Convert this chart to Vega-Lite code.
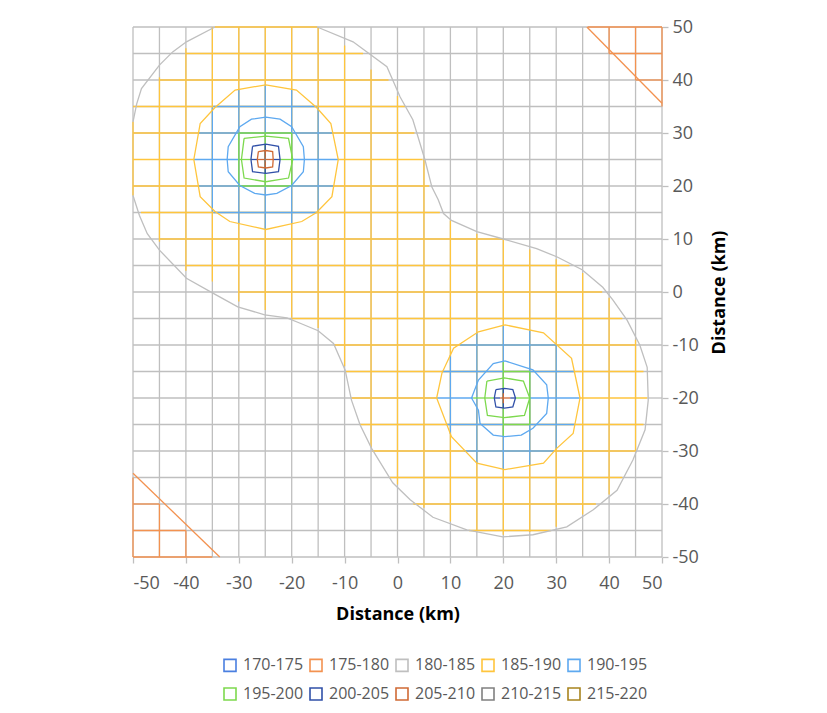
{
"$schema":"https://vega.github.io/schema/vega-lite/v6.json",
"width":529,"height":530,
"autosize":{"type":"none"},
"padding":{"left":133,"top":27,"right":165,"bottom":156},
"background":"white",
"config":{"view":{"stroke":null},"font":"Open Sans"},
"datasets":{
"grid":[
{"x":-50,"y":-50,"x2":-50,"y2":50,"b":"180-185"},{"x":-45,"y":-50,"x2":-45,"y2":50,"b":"180-185"},{"x":-40,"y":-50,"x2":-40,"y2":50,"b":"180-185"},{"x":-35,"y":-50,"x2":-35,"y2":50,"b":"180-185"},{"x":-30,"y":-50,"x2":-30,"y2":50,"b":"180-185"},{"x":-25,"y":-50,"x2":-25,"y2":50,"b":"180-185"},{"x":-20,"y":-50,"x2":-20,"y2":50,"b":"180-185"},{"x":-15,"y":-50,"x2":-15,"y2":50,"b":"180-185"},{"x":-10,"y":-50,"x2":-10,"y2":50,"b":"180-185"},{"x":-5,"y":-50,"x2":-5,"y2":50,"b":"180-185"},{"x":0,"y":-50,"x2":0,"y2":50,"b":"180-185"},{"x":5,"y":-50,"x2":5,"y2":50,"b":"180-185"},{"x":10,"y":-50,"x2":10,"y2":50,"b":"180-185"},{"x":15,"y":-50,"x2":15,"y2":50,"b":"180-185"},{"x":20,"y":-50,"x2":20,"y2":50,"b":"180-185"},{"x":25,"y":-50,"x2":25,"y2":50,"b":"180-185"},{"x":30,"y":-50,"x2":30,"y2":50,"b":"180-185"},{"x":35,"y":-50,"x2":35,"y2":50,"b":"180-185"},{"x":40,"y":-50,"x2":40,"y2":50,"b":"180-185"},{"x":45,"y":-50,"x2":45,"y2":50,"b":"180-185"},{"x":50,"y":-50,"x2":50,"y2":50,"b":"180-185"},
{"x":-50,"y":-50,"x2":50,"y2":-50,"b":"180-185"},{"x":-50,"y":-45,"x2":50,"y2":-45,"b":"180-185"},{"x":-50,"y":-40,"x2":50,"y2":-40,"b":"180-185"},{"x":-50,"y":-35,"x2":50,"y2":-35,"b":"180-185"},{"x":-50,"y":-30,"x2":50,"y2":-30,"b":"180-185"},{"x":-50,"y":-25,"x2":50,"y2":-25,"b":"180-185"},{"x":-50,"y":-20,"x2":7.4,"y2":-20,"b":"180-185"},{"x":47.2,"y":-20,"x2":50,"y2":-20,"b":"180-185"},{"x":-50,"y":-15,"x2":50,"y2":-15,"b":"180-185"},{"x":-50,"y":-10,"x2":50,"y2":-10,"b":"180-185"},{"x":-50,"y":-5,"x2":50,"y2":-5,"b":"180-185"},{"x":-50,"y":0,"x2":50,"y2":0,"b":"180-185"},{"x":-50,"y":5,"x2":50,"y2":5,"b":"180-185"},{"x":-50,"y":10,"x2":50,"y2":10,"b":"180-185"},{"x":-50,"y":15,"x2":50,"y2":15,"b":"180-185"},{"x":-50,"y":20,"x2":50,"y2":20,"b":"180-185"},{"x":4.7,"y":25,"x2":50,"y2":25,"b":"180-185"},{"x":-50,"y":30,"x2":50,"y2":30,"b":"180-185"},{"x":-50,"y":35,"x2":50,"y2":35,"b":"180-185"},{"x":-50,"y":40,"x2":50,"y2":40,"b":"180-185"},{"x":-50,"y":45,"x2":50,"y2":45,"b":"180-185"},{"x":-50,"y":50,"x2":50,"y2":50,"b":"180-185"},
{"x":-34.5,"y":50,"x2":-15.2,"y2":50,"b":"185-190"},
{"x":-40,"y":45,"x2":-6.5,"y2":45,"b":"185-190"},
{"x":-45,"y":40,"x2":-1.7,"y2":40,"b":"185-190"},
{"x":-50,"y":35,"x2":1.4,"y2":35,"b":"185-190"},
{"x":-50,"y":30,"x2":3.2,"y2":30,"b":"185-190"},
{"x":-50,"y":25,"x2":-38.5,"y2":25,"b":"185-190"},
{"x":-11.2,"y":25,"x2":4.7,"y2":25,"b":"185-190"},
{"x":-50,"y":20,"x2":6.0,"y2":20,"b":"185-190"},
{"x":-48.5,"y":15,"x2":8.0,"y2":15,"b":"185-190"},
{"x":-45,"y":10,"x2":20,"y2":10,"b":"185-190"},
{"x":-40,"y":5,"x2":32.5,"y2":5,"b":"185-190"},
{"x":-30,"y":0,"x2":38.7,"y2":0,"b":"185-190"},
{"x":-20,"y":-5,"x2":42.5,"y2":-5,"b":"185-190"},
{"x":-12,"y":-10,"x2":45,"y2":-10,"b":"185-190"},
{"x":-9.8,"y":-15,"x2":46.5,"y2":-15,"b":"185-190"},
{"x":-8.7,"y":-20,"x2":7.4,"y2":-20,"b":"185-190"},
{"x":34.5,"y":-20,"x2":47.2,"y2":-20,"b":"185-190"},
{"x":-7.1,"y":-25,"x2":46.5,"y2":-25,"b":"185-190"},
{"x":-4.8,"y":-30,"x2":45,"y2":-30,"b":"185-190"},
{"x":-1.5,"y":-35,"x2":42.5,"y2":-35,"b":"185-190"},
{"x":3,"y":-40,"x2":37.5,"y2":-40,"b":"185-190"},
{"x":13.5,"y":-45,"x2":29,"y2":-45,"b":"185-190"},
{"x":-50,"y":18.2,"x2":-50,"y2":32.1,"b":"185-190"},
{"x":-45,"y":9.5,"x2":-45,"y2":40.5,"b":"185-190"},
{"x":-40,"y":4,"x2":-40,"y2":46,"b":"185-190"},
{"x":-35,"y":2,"x2":-35,"y2":50,"b":"185-190"},
{"x":-30,"y":-1.8,"x2":-30,"y2":50,"b":"185-190"},
{"x":-25,"y":-3.4,"x2":-25,"y2":50,"b":"185-190"},
{"x":-20,"y":-4.8,"x2":-20,"y2":50,"b":"185-190"},
{"x":-15,"y":-6.8,"x2":-15,"y2":50,"b":"185-190"},
{"x":-10,"y":-14,"x2":-10,"y2":46.5,"b":"185-190"},
{"x":-5,"y":-29.3,"x2":-5,"y2":42,"b":"185-190"},
{"x":0,"y":-36.3,"x2":0,"y2":37,"b":"185-190"},
{"x":5,"y":-40.7,"x2":5,"y2":25,"b":"185-190"},
{"x":10,"y":-43.3,"x2":10,"y2":13.5,"b":"185-190"},
{"x":15,"y":-45,"x2":15,"y2":11,"b":"185-190"},
{"x":20,"y":-45.8,"x2":20,"y2":10,"b":"185-190"},
{"x":25,"y":-45.3,"x2":25,"y2":8,"b":"185-190"},
{"x":30,"y":-44.3,"x2":30,"y2":6.2,"b":"185-190"},
{"x":35,"y":-42,"x2":35,"y2":3.6,"b":"185-190"},
{"x":40,"y":-38.2,"x2":40,"y2":-1.1,"b":"185-190"},
{"x":45,"y":-30,"x2":45,"y2":-9,"b":"185-190"},
{"x":-34.8,"y":35,"x2":-15.2,"y2":35,"b":"190-195"},
{"x":-37.6,"y":30,"x2":-12.2,"y2":30,"b":"190-195"},
{"x":-38.5,"y":25,"x2":-30,"y2":25,"b":"190-195"},
{"x":-20,"y":25,"x2":-11.2,"y2":25,"b":"190-195"},
{"x":-37.6,"y":20,"x2":-12.1,"y2":20,"b":"190-195"},
{"x":-34.8,"y":15,"x2":-15.2,"y2":15,"b":"190-195"},
{"x":11.8,"y":-10,"x2":30.1,"y2":-10,"b":"190-195"},
{"x":8.5,"y":-15,"x2":33.4,"y2":-15,"b":"190-195"},
{"x":7.4,"y":-20,"x2":14.3,"y2":-20,"b":"190-195"},
{"x":25,"y":-20,"x2":34.5,"y2":-20,"b":"190-195"},
{"x":9.3,"y":-25,"x2":33.5,"y2":-25,"b":"190-195"},
{"x":12.6,"y":-30,"x2":29.6,"y2":-30,"b":"190-195"},
{"x":-35,"y":15.2,"x2":-35,"y2":34.8,"b":"190-195"},
{"x":-30,"y":12.9,"x2":-30,"y2":38.2,"b":"190-195"},
{"x":-25,"y":11.8,"x2":-25,"y2":39.1,"b":"190-195"},
{"x":-20,"y":12.9,"x2":-20,"y2":38.3,"b":"190-195"},
{"x":-15,"y":15.2,"x2":-15,"y2":34.8,"b":"190-195"},
{"x":10,"y":-26.8,"x2":10,"y2":-11.9,"b":"190-195"},
{"x":15,"y":-32.3,"x2":15,"y2":-7.7,"b":"190-195"},
{"x":20,"y":-33.4,"x2":20,"y2":-6.3,"b":"190-195"},
{"x":25,"y":-32.7,"x2":25,"y2":-7.2,"b":"190-195"},
{"x":30,"y":-29.6,"x2":30,"y2":-9.9,"b":"190-195"},
{"x":-30,"y":30,"x2":-20,"y2":30,"b":"195-200"},
{"x":-30,"y":25,"x2":-27.7,"y2":25,"b":"195-200"},
{"x":-22.2,"y":25,"x2":-20,"y2":25,"b":"195-200"},
{"x":-30,"y":20,"x2":-20,"y2":20,"b":"195-200"},
{"x":20,"y":-15,"x2":25,"y2":-15,"b":"195-200"},
{"x":14.3,"y":-20,"x2":18.3,"y2":-20,"b":"195-200"},
{"x":22.3,"y":-20,"x2":25,"y2":-20,"b":"195-200"},
{"x":20,"y":-25,"x2":25,"y2":-25,"b":"195-200"},
{"x":-30,"y":20,"x2":-30,"y2":30,"b":"195-200"},
{"x":-25,"y":20,"x2":-25,"y2":30,"b":"195-200"},
{"x":-20,"y":20,"x2":-20,"y2":30,"b":"195-200"},
{"x":20,"y":-27.3,"x2":20,"y2":-13,"b":"195-200"},
{"x":25,"y":-25,"x2":25,"y2":-15,"b":"195-200"},
{"x":-27.7,"y":25,"x2":-26.5,"y2":25,"b":"200-205"},
{"x":-23.5,"y":25,"x2":-22.2,"y2":25,"b":"200-205"},
{"x":18.3,"y":-20,"x2":19.4,"y2":-20,"b":"200-205"},
{"x":21.3,"y":-20,"x2":22.3,"y2":-20,"b":"200-205"},
{"x":-25,"y":22.4,"x2":-25,"y2":27.9,"b":"200-205"},
{"x":20,"y":-21.9,"x2":20,"y2":-18.2,"b":"200-205"},
{"x":-26.5,"y":25,"x2":-23.5,"y2":25,"b":"205-210"},
{"x":19.4,"y":-20,"x2":21.3,"y2":-20,"b":"205-210"},
{"x":-25,"y":23.4,"x2":-25,"y2":26.7,"b":"205-210"},
{"x":20,"y":-21,"x2":20,"y2":-19.1,"b":"205-210"},
{"x":-25,"y":24.6,"x2":-25,"y2":25.4,"b":"210-215"},
{"x":36,"y":50,"x2":50,"y2":50,"b":"175-180"},
{"x":40,"y":45,"x2":50,"y2":45,"b":"175-180"},
{"x":45,"y":40,"x2":50,"y2":40,"b":"175-180"},
{"x":-50,"y":-40,"x2":-45,"y2":-40,"b":"175-180"},
{"x":-50,"y":-45,"x2":-40,"y2":-45,"b":"175-180"},
{"x":-50,"y":-50,"x2":-35,"y2":-50,"b":"175-180"},
{"x":50,"y":35,"x2":50,"y2":50,"b":"175-180"},
{"x":45,"y":40,"x2":45,"y2":50,"b":"175-180"},
{"x":40,"y":45,"x2":40,"y2":50,"b":"175-180"},
{"x":-50,"y":-50,"x2":-50,"y2":-35,"b":"175-180"},
{"x":-45,"y":-50,"x2":-45,"y2":-40,"b":"175-180"},
{"x":-40,"y":-50,"x2":-40,"y2":-45,"b":"175-180"}
],
"cont":[
{"c":"c1","b":"175-180","i":0,"x":35.8,"y":50},{"c":"c1","b":"175-180","i":1,"x":50,"y":35.6},
{"c":"c2","b":"175-180","i":0,"x":-50,"y":-34.2},{"c":"c2","b":"175-180","i":1,"x":-33.6,"y":-50},
{"c":"gB","b":"180-185","i":0,"x":-50,"y":32.1},{"c":"gB","b":"180-185","i":1,"x":-49.3,"y":35.5},{"c":"gB","b":"180-185","i":2,"x":-48.4,"y":38.4},{"c":"gB","b":"180-185","i":3,"x":-45,"y":42.8},{"c":"gB","b":"180-185","i":4,"x":-42.5,"y":45.3},{"c":"gB","b":"180-185","i":5,"x":-39.9,"y":47.2},{"c":"gB","b":"180-185","i":6,"x":-34.5,"y":50},
{"c":"gA","b":"180-185","i":0,"x":-15.2,"y":50},{"c":"gA","b":"180-185","i":1,"x":-8.4,"y":47.2},{"c":"gA","b":"180-185","i":2,"x":-2.0,"y":42.5},{"c":"gA","b":"180-185","i":3,"x":0.5,"y":36.8},{"c":"gA","b":"180-185","i":4,"x":2.9,"y":32.5},{"c":"gA","b":"180-185","i":5,"x":5.2,"y":24.9},{"c":"gA","b":"180-185","i":6,"x":6.5,"y":19.8},{"c":"gA","b":"180-185","i":7,"x":7.7,"y":17.4},{"c":"gA","b":"180-185","i":8,"x":8.7,"y":14.8},{"c":"gA","b":"180-185","i":9,"x":10.2,"y":13.5},{"c":"gA","b":"180-185","i":10,"x":15,"y":11.4},{"c":"gA","b":"180-185","i":11,"x":20,"y":10},{"c":"gA","b":"180-185","i":12,"x":26.3,"y":8.2},{"c":"gA","b":"180-185","i":13,"x":30.2,"y":6.6},{"c":"gA","b":"180-185","i":14,"x":34.9,"y":4.2},{"c":"gA","b":"180-185","i":15,"x":38.8,"y":0.9},{"c":"gA","b":"180-185","i":16,"x":40.7,"y":-1.5},{"c":"gA","b":"180-185","i":17,"x":43.4,"y":-5.3},{"c":"gA","b":"180-185","i":18,"x":45.8,"y":-10},{"c":"gA","b":"180-185","i":19,"x":47.2,"y":-14.2},{"c":"gA","b":"180-185","i":20,"x":47.4,"y":-20.4},{"c":"gA","b":"180-185","i":21,"x":46.8,"y":-26},{"c":"gA","b":"180-185","i":22,"x":44.5,"y":-31.7},{"c":"gA","b":"180-185","i":23,"x":41.5,"y":-37.4},{"c":"gA","b":"180-185","i":24,"x":37,"y":-41.1},{"c":"gA","b":"180-185","i":25,"x":32,"y":-44.3},{"c":"gA","b":"180-185","i":26,"x":25.6,"y":-45.8},{"c":"gA","b":"180-185","i":27,"x":19.9,"y":-46.2},{"c":"gA","b":"180-185","i":28,"x":13.1,"y":-44.9},{"c":"gA","b":"180-185","i":29,"x":6.7,"y":-42.5},{"c":"gA","b":"180-185","i":30,"x":2.4,"y":-39.2},{"c":"gA","b":"180-185","i":31,"x":-0.9,"y":-36},{"c":"gA","b":"180-185","i":32,"x":-4.9,"y":-29.5},{"c":"gA","b":"180-185","i":33,"x":-7.1,"y":-25},{"c":"gA","b":"180-185","i":34,"x":-8.7,"y":-20.4},{"c":"gA","b":"180-185","i":35,"x":-9.9,"y":-14.7},{"c":"gA","b":"180-185","i":36,"x":-12.1,"y":-9.7},{"c":"gA","b":"180-185","i":37,"x":-15,"y":-7.3},{"c":"gA","b":"180-185","i":38,"x":-18.4,"y":-5.9},{"c":"gA","b":"180-185","i":39,"x":-20.9,"y":-4.9},{"c":"gA","b":"180-185","i":40,"x":-25.1,"y":-4.3},{"c":"gA","b":"180-185","i":41,"x":-30.2,"y":-2.8},{"c":"gA","b":"180-185","i":42,"x":-34.9,"y":-0.2},{"c":"gA","b":"180-185","i":43,"x":-39.9,"y":2.6},{"c":"gA","b":"180-185","i":44,"x":-45,"y":7.9},{"c":"gA","b":"180-185","i":45,"x":-47.3,"y":11},{"c":"gA","b":"180-185","i":46,"x":-48.8,"y":14.5},{"c":"gA","b":"180-185","i":47,"x":-50,"y":18.2},
{"c":"yL","b":"185-190","i":0,"x":-24.9,"y":39.1},{"c":"yL","b":"185-190","i":1,"x":-19.1,"y":38.1},{"c":"yL","b":"185-190","i":2,"x":-15.3,"y":34.8},{"c":"yL","b":"185-190","i":3,"x":-12.6,"y":31.8},{"c":"yL","b":"185-190","i":4,"x":-11.2,"y":25},{"c":"yL","b":"185-190","i":5,"x":-12.4,"y":18},{"c":"yL","b":"185-190","i":6,"x":-15.3,"y":15},{"c":"yL","b":"185-190","i":7,"x":-18.1,"y":13.3},{"c":"yL","b":"185-190","i":8,"x":-24.9,"y":11.8},{"c":"yL","b":"185-190","i":9,"x":-31.7,"y":13.3},{"c":"yL","b":"185-190","i":10,"x":-34.5,"y":15.2},{"c":"yL","b":"185-190","i":11,"x":-37.3,"y":18},{"c":"yL","b":"185-190","i":12,"x":-38.5,"y":25},{"c":"yL","b":"185-190","i":13,"x":-37.3,"y":31.8},{"c":"yL","b":"185-190","i":14,"x":-34.5,"y":34.8},{"c":"yL","b":"185-190","i":15,"x":-30.7,"y":38.1},{"c":"yL","b":"185-190","i":16,"x":-24.9,"y":39.1},
{"c":"yR","b":"185-190","i":0,"x":20.3,"y":-6.2},{"c":"yR","b":"185-190","i":1,"x":27.6,"y":-7.7},{"c":"yR","b":"185-190","i":2,"x":32.9,"y":-12.5},{"c":"yR","b":"185-190","i":3,"x":34.5,"y":-20},{"c":"yR","b":"185-190","i":4,"x":33.2,"y":-26.7},{"c":"yR","b":"185-190","i":5,"x":30.1,"y":-29.5},{"c":"yR","b":"185-190","i":6,"x":27.6,"y":-32.3},{"c":"yR","b":"185-190","i":7,"x":20.3,"y":-33.5},{"c":"yR","b":"185-190","i":8,"x":15,"y":-32.3},{"c":"yR","b":"185-190","i":9,"x":10.2,"y":-27.3},{"c":"yR","b":"185-190","i":10,"x":7.4,"y":-20},{"c":"yR","b":"185-190","i":11,"x":8.4,"y":-15.3},{"c":"yR","b":"185-190","i":12,"x":10.6,"y":-10.6},{"c":"yR","b":"185-190","i":13,"x":15.3,"y":-7.5},{"c":"yR","b":"185-190","i":14,"x":20.3,"y":-6.2},
{"c":"bL","b":"190-195","i":0,"x":-24.9,"y":33},{"c":"bL","b":"190-195","i":1,"x":-22.2,"y":32.6},{"c":"bL","b":"190-195","i":2,"x":-20,"y":31.2},{"c":"bL","b":"190-195","i":3,"x":-17.8,"y":27.4},{"c":"bL","b":"190-195","i":4,"x":-17.6,"y":25},{"c":"bL","b":"190-195","i":5,"x":-17.8,"y":22.7},{"c":"bL","b":"190-195","i":6,"x":-20,"y":20.1},{"c":"bL","b":"190-195","i":7,"x":-22.8,"y":18.6},{"c":"bL","b":"190-195","i":8,"x":-24.9,"y":18.3},{"c":"bL","b":"190-195","i":9,"x":-27,"y":18.6},{"c":"bL","b":"190-195","i":10,"x":-29.8,"y":20.1},{"c":"bL","b":"190-195","i":11,"x":-32,"y":22.7},{"c":"bL","b":"190-195","i":12,"x":-32.2,"y":25},{"c":"bL","b":"190-195","i":13,"x":-32,"y":27.4},{"c":"bL","b":"190-195","i":14,"x":-29.8,"y":31.2},{"c":"bL","b":"190-195","i":15,"x":-27.6,"y":32.6},{"c":"bL","b":"190-195","i":16,"x":-24.9,"y":33},
{"c":"bR","b":"190-195","i":0,"x":20.3,"y":-13},{"c":"bR","b":"190-195","i":1,"x":25.6,"y":-14.7},{"c":"bR","b":"190-195","i":2,"x":28.2,"y":-17.5},{"c":"bR","b":"190-195","i":3,"x":28.5,"y":-20},{"c":"bR","b":"190-195","i":4,"x":28.2,"y":-22.9},{"c":"bR","b":"190-195","i":5,"x":25.6,"y":-25.7},{"c":"bR","b":"190-195","i":6,"x":23.4,"y":-27},{"c":"bR","b":"190-195","i":7,"x":20.3,"y":-27.3},{"c":"bR","b":"190-195","i":8,"x":18.1,"y":-27},{"c":"bR","b":"190-195","i":9,"x":15.6,"y":-24.8},{"c":"bR","b":"190-195","i":10,"x":15.3,"y":-22.3},{"c":"bR","b":"190-195","i":11,"x":14,"y":-20},{"c":"bR","b":"190-195","i":12,"x":15.3,"y":-16.6},{"c":"bR","b":"190-195","i":13,"x":18.1,"y":-13.5},{"c":"bR","b":"190-195","i":14,"x":20.3,"y":-13},
{"c":"gL","b":"195-200","i":0,"x":-29,"y":29},{"c":"gL","b":"195-200","i":1,"x":-24.9,"y":29.4},{"c":"gL","b":"195-200","i":2,"x":-20.6,"y":29},{"c":"gL","b":"195-200","i":3,"x":-19.8,"y":25},{"c":"gL","b":"195-200","i":4,"x":-20.6,"y":21.5},{"c":"gL","b":"195-200","i":5,"x":-24.9,"y":20.8},{"c":"gL","b":"195-200","i":6,"x":-29,"y":21.5},{"c":"gL","b":"195-200","i":7,"x":-29.5,"y":25},{"c":"gL","b":"195-200","i":8,"x":-29,"y":29},
{"c":"gR","b":"195-200","i":0,"x":16.9,"y":-16.8},{"c":"gR","b":"195-200","i":1,"x":20.2,"y":-16.2},{"c":"gR","b":"195-200","i":2,"x":23.8,"y":-16.8},{"c":"gR","b":"195-200","i":3,"x":25,"y":-20},{"c":"gR","b":"195-200","i":4,"x":24,"y":-23.3},{"c":"gR","b":"195-200","i":5,"x":20.2,"y":-23.7},{"c":"gR","b":"195-200","i":6,"x":17,"y":-23.3},{"c":"gR","b":"195-200","i":7,"x":16.5,"y":-20},{"c":"gR","b":"195-200","i":8,"x":16.9,"y":-16.8},
{"c":"dL","b":"200-205","i":0,"x":-27.4,"y":27.5},{"c":"dL","b":"200-205","i":1,"x":-24.9,"y":27.9},{"c":"dL","b":"200-205","i":2,"x":-22.5,"y":27.5},{"c":"dL","b":"200-205","i":3,"x":-22.2,"y":25},{"c":"dL","b":"200-205","i":4,"x":-22.5,"y":22.7},{"c":"dL","b":"200-205","i":5,"x":-24.9,"y":22.4},{"c":"dL","b":"200-205","i":6,"x":-27.4,"y":22.7},{"c":"dL","b":"200-205","i":7,"x":-27.7,"y":25},{"c":"dL","b":"200-205","i":8,"x":-27.4,"y":27.5},
{"c":"dR","b":"200-205","i":0,"x":18.6,"y":-18.4},{"c":"dR","b":"200-205","i":1,"x":20.2,"y":-18.2},{"c":"dR","b":"200-205","i":2,"x":21.8,"y":-18.4},{"c":"dR","b":"200-205","i":3,"x":22.3,"y":-20},{"c":"dR","b":"200-205","i":4,"x":21.8,"y":-21.7},{"c":"dR","b":"200-205","i":5,"x":20.2,"y":-21.9},{"c":"dR","b":"200-205","i":6,"x":18.6,"y":-21.7},{"c":"dR","b":"200-205","i":7,"x":18.3,"y":-20},{"c":"dR","b":"200-205","i":8,"x":18.6,"y":-18.4},
{"c":"oL","b":"205-210","i":0,"x":-26.3,"y":26.5},{"c":"oL","b":"205-210","i":1,"x":-24.9,"y":26.7},{"c":"oL","b":"205-210","i":2,"x":-23.6,"y":26.5},{"c":"oL","b":"205-210","i":3,"x":-23.5,"y":25},{"c":"oL","b":"205-210","i":4,"x":-23.6,"y":23.6},{"c":"oL","b":"205-210","i":5,"x":-24.9,"y":23.4},{"c":"oL","b":"205-210","i":6,"x":-26.3,"y":23.6},{"c":"oL","b":"205-210","i":7,"x":-26.5,"y":25},{"c":"oL","b":"205-210","i":8,"x":-26.3,"y":26.5}
]
},
"layer":[
{"data":{"name":"grid"},
 "mark":{"type":"rule","strokeWidth":1.3},
 "encoding":{
  "x":{"field":"x","type":"quantitative","scale":{"domain":[-50,50],"nice":false,"zero":false},
   "axis":{"orient":"bottom","values":[-50,-45,-40,-35,-30,-25,-20,-15,-10,-5,0,5,10,15,20,25,30,35,40,45,50],"labelExpr":"datum.value % 10 == 0 ? '' + datum.value : ''","labelOverlap":false,"grid":false,"domain":false,"tickColor":"#BFBFBF","tickSize":6,"tickWidth":1.3,"labelFontSize":18,"labelColor":"#595959","labelPadding":11,"title":"Distance (km)","titleFontSize":18,"titleFontWeight":"bold","titleColor":"#000000","titlePadding":13}},
  "y":{"field":"y","type":"quantitative","scale":{"domain":[-50,50],"nice":false,"zero":false},
   "axis":{"orient":"right","values":[-50,-45,-40,-35,-30,-25,-20,-15,-10,-5,0,5,10,15,20,25,30,35,40,45,50],"labelExpr":"datum.value % 10 == 0 ? '' + datum.value : ''","labelOverlap":false,"grid":false,"domain":false,"tickColor":"#BFBFBF","tickSize":6,"tickWidth":1.3,"labelFontSize":18,"labelColor":"#595959","labelPadding":4,"labelAlign":"left","title":"Distance (km)","titleFontSize":18,"titleFontWeight":"bold","titleColor":"#000000","titlePadding":12,"titleAngle":270,"titleBaseline":"top"}},
  "x2":{"field":"x2"},
  "y2":{"field":"y2"},
  "color":{"field":"b","type":"nominal",
   "scale":{"domain":["170-175","175-180","180-185","185-190","190-195","195-200","200-205","205-210","210-215","215-220"],
            "range":["#4A7FE0","#F39250","#BFBFBF","#FFC53D","#5EA9F0","#7DD94E","#3050A8","#D06A35","#808080","#A8841E"]},
   "legend":{"orient":"none","direction":"horizontal","legendX":89,"legendY":630,"columns":5,"title":null,"symbolType":"square","symbolSize":144,"symbolStrokeWidth":1.6,"symbolFillColor":"white","labelFontSize":16,"labelColor":"#595959","labelOffset":5,"columnPadding":2,"rowPadding":9}}
 }},
{"data":{"name":"cont"},
 "mark":{"type":"line","strokeWidth":1.3},
 "encoding":{
  "x":{"field":"x","type":"quantitative"},
  "y":{"field":"y","type":"quantitative"},
  "detail":{"field":"c"},
  "order":{"field":"i","type":"quantitative"},
  "color":{"field":"b","type":"nominal"}
 }}
]
}
